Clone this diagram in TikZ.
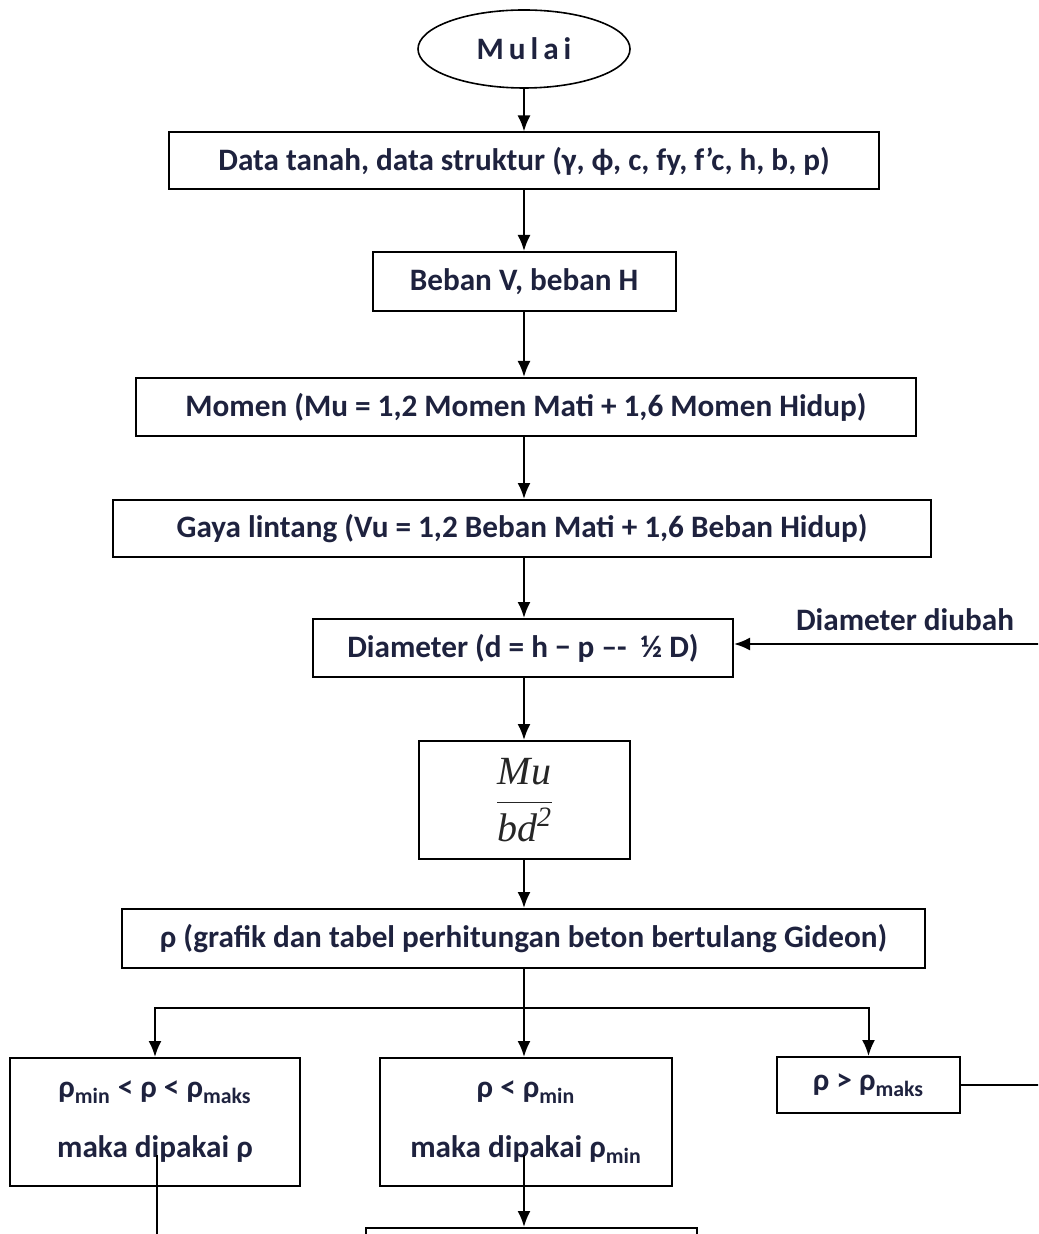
\documentclass[tikz,border=0pt]{standalone}
\usepackage{fontspec}
\setmainfont{Carlito}
\newfontfamily\serifku{Liberation Serif}
\usetikzlibrary{shapes.geometric}
\usetikzlibrary{arrows.meta}
\usetikzlibrary{calc}
\definecolor{teks}{RGB}{30,34,62}

\begin{document}
\begin{tikzpicture}[x=0.5pt,y=-0.5pt,font=\fontsize{15.6}{18}\selectfont\bfseries,
  kotak/.style={draw,line width=1pt,inner sep=0pt,text=teks,align=center},
  panah/.style={-{Latex[length=8pt,width=6.5pt]},line width=1pt},
  garis/.style={line width=1pt}]
\useasboundingbox (0,0) rectangle (1038,1234);
\clip (0,0) rectangle (1038,1234);

\node[ellipse,draw,line width=0.8pt,minimum width=106pt,minimum height=39pt,text=teks] (mulai) at (524,49) {\addfontfeature{LetterSpace=16}Mulai};
\node[kotak,minimum width=355pt,minimum height=28.5pt] (data) at (524,161) {Data tanah, data struktur (γ, ϕ, c, fy, f’c, h, b, p)};
\node[kotak,minimum width=151.5pt,minimum height=29.5pt] (beban) at (524,281.5) {Beban V, beban H};
\node[kotak,minimum width=390pt,minimum height=29pt] (momen) at (526,407) {Momen (Mu = 1,2 Momen Mati + 1,6 Momen Hidup)};
\node[kotak,minimum width=409pt,minimum height=28.5pt] (gaya) at (522,528.5) {Gaya lintang (Vu = 1,2 Beban Mati + 1,6 Beban Hidup)};
\node[kotak,minimum width=210pt,minimum height=29pt] (diam) at (523,648) {Diameter (d = h − p –-~~½ D)};
\node[kotak,minimum width=105.5pt,minimum height=59pt,text=black!85] (rasio) at (524.5,800) {\fontsize{20}{22}\selectfont\mdseries$\displaystyle\frac{\hbox{\serifku\itshape Mu}}{\hbox{\serifku\itshape bd\textsuperscript{2}}}$};
\node[kotak,minimum width=401.5pt,minimum height=29.5pt] (rho) at (523.5,938.5) {ρ (grafik dan tabel perhitungan beton bertulang Gideon)};

\node[kotak,minimum width=145pt,minimum height=64pt] (kiri) at (155,1122) {ρ\textsubscript{min} < ρ < ρ\textsubscript{maks}\\[12pt] maka dipakai ρ};
\node[kotak,minimum width=146pt,minimum height=64pt] (tengah) at (526,1122) {ρ < ρ\textsubscript{min}\\[12pt] maka dipakai ρ\textsubscript{min}};
\node[kotak,minimum width=91.5pt,minimum height=28pt] (kanan) at (868.5,1085) {ρ > ρ\textsubscript{maks}};
\node[kotak,minimum width=165.5pt,minimum height=50pt] (akhir) at (531.5,1278) {};

\node[text=teks] (ubah) at (905,620) {Diameter diubah};

\coordinate (jalur) at (524,0);
\draw[panah] (mulai.south) -- (mulai.south |- data.north);
\draw[panah] (data.south -| jalur) -- (beban.north -| jalur);
\draw[panah] (beban.south -| jalur) -- (momen.north -| jalur);
\draw[panah] (momen.south -| jalur) -- (gaya.north -| jalur);
\draw[panah] (gaya.south -| jalur) -- (diam.north -| jalur);
\draw[panah] (diam.south -| jalur) -- (rasio.north -| jalur);
\draw[panah] (rasio.south -| jalur) -- (rho.north -| jalur);

\coordinate (tepi2) at (1040,644);
\draw[panah] (tepi2) -- (diam.east |- tepi2);

\coordinate (cabang) at (524,1008);
\draw[panah] (rho.south -| jalur) -- (tengah.north -| jalur);
\draw[panah] (cabang) -| (kiri.north);
\draw[panah] (cabang) -| (kanan.north);

\coordinate (tepi1) at (1040,1085);
\draw[garis] (kanan.east) -- (tepi1);

\coordinate (kiriturun) at (157,1155);
\coordinate (kiribawah) at (157,1260);
\draw[garis] (kiriturun) -- (kiribawah);
\coordinate (tengahturun) at (524,1155);
\draw[panah] (tengahturun) -- (akhir.north -| tengahturun);
\end{tikzpicture}
\end{document}
